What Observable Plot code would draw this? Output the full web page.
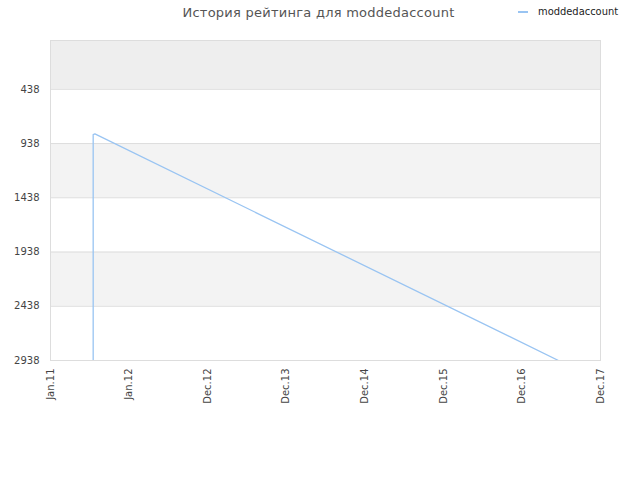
<!DOCTYPE html>
<html>
<head>
<meta charset="utf-8">
<script src="https://cdn.jsdelivr.net/npm/d3@7"></script>
<script src="https://cdn.jsdelivr.net/npm/@observablehq/plot@0.6"></script>
<style>
  body { margin: 0; background: #fff; font-family: "DejaVu Sans", sans-serif; }
  #wrap { position: relative; width: 640px; height: 480px; }
  #title { position: absolute; top: 5px; left: 0; width: 637px; text-align: center; font-size: 13px; letter-spacing: 0.25px; color: #555; font-family: "DejaVu Sans", sans-serif; }
  #legend { position: absolute; top: 5px; left: 518px; font-size: 11px; color: #222; font-family: "Liberation Sans Narrow", "DejaVu Sans Condensed", sans-serif; display: flex; align-items: center; }
  #legend .sw { display: inline-block; width: 10px; height: 2px; background: #99c4f2; margin-right: 10px; }
  #chart { position: absolute; top: 0; left: 0; }
</style>
</head>
<body>
<div id="wrap">
  <div id="chart"></div>
  <div id="title">История рейтинга для moddedaccount</div>
  <div id="legend"><span class="sw"></span><span id="legname"></span></div>
</div>
<script>
const seriesName = "moddedaccount";
const dates = ["2011-07-16", "2011-07-16", "2011-07-24", "2017-05-22"];
const ratings = [2938, 855, 849, 2938];
const yTicks = [438, 938, 1438, 1938, 2438, 2938];
const xTickLabels = ["Jan.11", "Jan.12", "Dec.12", "Dec.13", "Dec.14", "Dec.15", "Dec.16", "Dec.17"];
const xDomain = ["2011-01-01", "2017-12-01"];
const yDomain = [2938, -12];

document.getElementById("legname").textContent = seriesName;

const x0 = new Date(xDomain[0]), x1 = new Date(xDomain[1]);
const tickDates = xTickLabels.map((_, i) => new Date(+x0 + (x1 - x0) * i / (xTickLabels.length - 1)));
const data = dates.map((d, i) => ({date: new Date(d), rating: ratings[i]}));

const topBand = [{y1: yDomain[1], y2: yTicks[0]}];
const grayBands = [{y1: yTicks[1], y2: yTicks[2]}, {y1: yTicks[3], y2: yTicks[4]}];

const chart = Plot.plot({
  width: 640,
  height: 480,
  marginLeft: 50,
  marginRight: 40,
  marginTop: 40,
  marginBottom: 120,
  style: {fontFamily: "DejaVu Sans, sans-serif", fontSize: "10px", color: "#444", background: "transparent"},
  x: {type: "time", domain: [x0, x1]},
  y: {domain: yDomain},
  marks: [
    Plot.rect(topBand, {x1: () => x0, x2: () => x1, y1: "y1", y2: "y2", fill: "#eeeeee"}),
    Plot.rect(grayBands, {x1: () => x0, x2: () => x1, y1: "y1", y2: "y2", fill: "#f3f3f3"}),
    Plot.ruleY(yTicks, {stroke: "#dddddd", strokeWidth: 1}),
    Plot.frame({stroke: "#dddddd"}),
    Plot.line(data, {x: "date", y: "rating", stroke: "#99c4f2", strokeWidth: 1.3, clip: true}),
    Plot.axisY({ticks: yTicks, tickSize: 0, tickPadding: 11, tickFormat: d => String(d), label: null}),
    Plot.axisX({ticks: tickDates, tickSize: 0, tickPadding: 8, tickRotate: -90, tickFormat: (d, i) => xTickLabels[i], label: null})
  ]
});
document.getElementById("chart").appendChild(chart);
</script>
</body>
</html>
